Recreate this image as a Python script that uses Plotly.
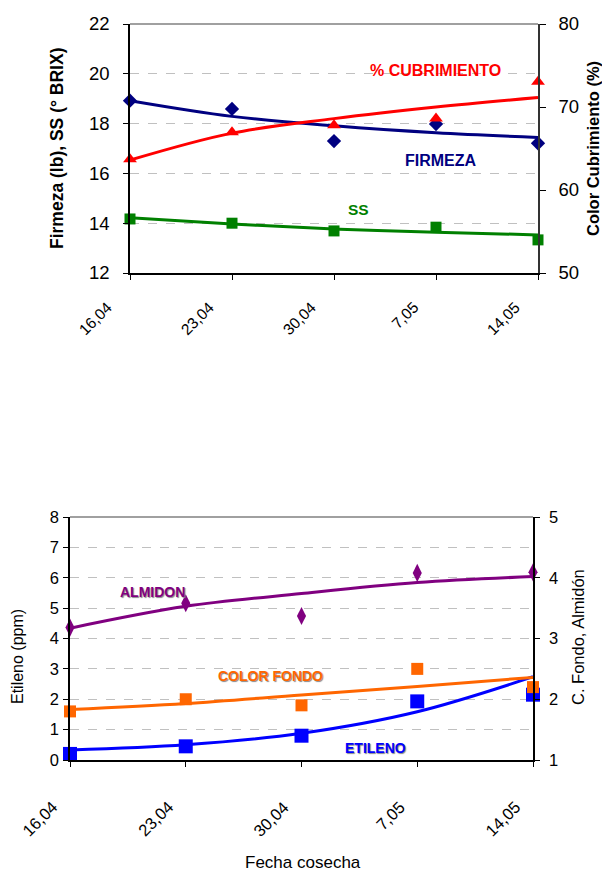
import plotly.graph_objects as go

# ---------------- data ----------------
fechas = ["16,04", "23,04", "30,04", "7,05", "14,05"]

# top chart
firmeza = [18.92, 18.59, 17.30, 17.98, 17.21]
firmeza_trend = [18.92, 18.29, 17.91, 17.63, 17.44]
ss = [14.17, 14.00, 13.69, 13.84, 13.33]
ss_trend = [14.22, 13.97, 13.77, 13.64, 13.53]
cubrimiento = [63.7, 66.95, 67.8, 68.6, 73.05]
cubrimiento_trend = [63.6, 66.85, 68.6, 70.0, 71.15]

# bottom chart
etileno = [0.20, 0.45, 0.80, 1.93, 2.15]
etileno_trend = [0.33, 0.50, 0.88, 1.59, 2.74]
color_fondo = [1.80, 2.00, 1.90, 2.50, 2.20]
color_fondo_trend = [1.83, 1.93, 2.07, 2.21, 2.36]
almidon = [3.18, 3.58, 3.37, 4.08, 4.09]
almidon_trend = [3.17, 3.53, 3.74, 3.92, 4.02]

x_idx = list(range(len(fechas)))

W, H = 602, 871
def px(x):
    return x / W
def py(y):
    return 1 - y / H

FONT = "Arial, Liberation Sans, Helvetica, sans-serif"
NAVY = "#000080"
RED = "#FF0000"
GREEN = "#008000"
PURPLE = "#800080"
ORANGE = "#FF6600"
BLUE = "#0000FF"

fig = go.Figure()

# ---- top chart traces ----
fig.add_trace(go.Scatter(x=x_idx, y=firmeza_trend, mode="lines", xaxis="x", yaxis="y",
                         line=dict(color=NAVY, width=3, shape="spline")))
fig.add_trace(go.Scatter(x=x_idx, y=ss_trend, mode="lines", xaxis="x", yaxis="y",
                         line=dict(color=GREEN, width=3, shape="spline")))
fig.add_trace(go.Scatter(x=x_idx, y=cubrimiento_trend, mode="lines", xaxis="x", yaxis="y2",
                         line=dict(color=RED, width=3, shape="spline")))
fig.add_trace(go.Scatter(x=x_idx, y=firmeza, mode="markers", xaxis="x", yaxis="y", cliponaxis=False,
                         marker=dict(symbol="diamond", size=11, color=NAVY)))
fig.add_trace(go.Scatter(x=x_idx, y=ss, mode="markers", xaxis="x", yaxis="y", cliponaxis=False,
                         marker=dict(symbol="square", size=11, color=GREEN)))
fig.add_trace(go.Scatter(x=x_idx, y=cubrimiento, mode="markers", xaxis="x", yaxis="y2", cliponaxis=False,
                         marker=dict(symbol="triangle-up", size=12, color=RED)))

# ---- bottom chart traces ----
fig.add_trace(go.Scatter(x=x_idx, y=almidon_trend, mode="lines", xaxis="x2", yaxis="y4",
                         line=dict(color=PURPLE, width=3, shape="spline")))
fig.add_trace(go.Scatter(x=x_idx, y=color_fondo_trend, mode="lines", xaxis="x2", yaxis="y4",
                         line=dict(color=ORANGE, width=3, shape="spline")))
fig.add_trace(go.Scatter(x=x_idx, y=etileno_trend, mode="lines", xaxis="x2", yaxis="y3",
                         line=dict(color=BLUE, width=3, shape="spline")))
fig.add_trace(go.Scatter(x=x_idx, y=almidon, mode="markers", xaxis="x2", yaxis="y4", cliponaxis=False,
                         marker=dict(symbol="diamond-tall", size=13, color=PURPLE)))
fig.add_trace(go.Scatter(x=x_idx, y=etileno, mode="markers", xaxis="x2", yaxis="y3", cliponaxis=False,
                         marker=dict(symbol="square", size=14, color=BLUE)))
fig.add_trace(go.Scatter(x=x_idx, y=color_fondo, mode="markers", xaxis="x2", yaxis="y4", cliponaxis=False,
                         marker=dict(symbol="square", size=12, color=ORANGE)))

tickfont_top = dict(family=FONT, size=18.5, color="black")
tickfont_bot = dict(family=FONT, size=16.5, color="black")

common_x = dict(range=[0, 4], tickmode="array", tickvals=x_idx, showticklabels=False,
                showline=True, linecolor="black", linewidth=1.5, ticks="outside", ticklen=5,
                tickcolor="black", showgrid=False, zeroline=False, automargin=False)

fig.update_layout(
    width=W, height=H, template="none", showlegend=False,
    margin=dict(l=0, r=0, t=0, b=0), paper_bgcolor="white", plot_bgcolor="rgba(0,0,0,0)",
    xaxis=dict(domain=[px(130), px(538)], anchor="y", **common_x),
    yaxis=dict(domain=[py(273), py(24)], anchor="x", range=[12, 22], dtick=2,
               showline=True, linecolor="black", linewidth=1.5, ticks="outside", ticklen=5,
               tickcolor="black", tickfont=tickfont_top, ticklabelstandoff=10,
               showgrid=True, gridcolor="#C0C0C0", griddash="dash", gridwidth=1,
               zeroline=False, automargin=False),
    yaxis2=dict(overlaying="y", side="right", anchor="x", range=[50, 80], dtick=10,
                showline=True, linecolor="#333333", linewidth=1.5, ticks="outside", ticklen=6,
                tickcolor="black", tickfont=tickfont_top, ticklabelstandoff=9,
                showgrid=False, zeroline=False, automargin=False),
    xaxis2=dict(domain=[px(70), px(533)], anchor="y3", **common_x),
    yaxis3=dict(domain=[py(760), py(517)], anchor="x2", range=[0, 8], dtick=1,
                showline=True, linecolor="black", linewidth=1.5, ticks="outside", ticklen=5,
                tickcolor="black", tickfont=tickfont_bot, ticklabelstandoff=1,
                showgrid=True, gridcolor="#C0C0C0", griddash="dash", gridwidth=1,
                zeroline=False, automargin=False),
    yaxis4=dict(overlaying="y3", side="right", anchor="x2", range=[1, 5], dtick=1,
                showline=True, linecolor="black", linewidth=1.5, ticks="outside", ticklen=5,
                tickcolor="black", tickfont=tickfont_bot, ticklabelstandoff=6,
                showgrid=False, zeroline=False, automargin=False),
)

# rotated category labels (placed on the category positions of each x axis)
for i, lab in zip(x_idx, fechas):
    fig.add_annotation(text=lab, x=i, y=0, xref="x", yref="y domain", xanchor="right",
                       yanchor="top", xshift=-12, yshift=-23, textangle=-45, showarrow=False,
                       font=dict(family=FONT, size=15.5, color="black"))
    fig.add_annotation(text=lab, x=i, y=0, xref="x2", yref="y3 domain", xanchor="right",
                       yanchor="top", xshift=-7, yshift=-35, textangle=-45, showarrow=False,
                       font=dict(family=FONT, size=16.5, color="black"))

# top borders
fig.add_shape(type="line", xref="x domain", yref="y domain", x0=0, x1=1, y0=1, y1=1,
              line=dict(color="#808080", width=1.5))
fig.add_shape(type="line", xref="x2 domain", yref="y3 domain", x0=0, x1=1, y0=1, y1=1,
              line=dict(color="#808080", width=1.5))

def ann(text, x, y, color="black", size=16, bold=False, angle=0, shadow=None):
    f = dict(family=FONT, size=size, color=color)
    if bold:
        f["weight"] = "bold"
    if shadow:
        f["shadow"] = shadow
    fig.add_annotation(text=text, x=px(x), y=py(y), xref="paper", yref="paper",
                       xanchor="center", yanchor="middle", showarrow=False,
                       textangle=angle, font=f)

# axis titles
ann("Firmeza (lb), SS (° BRIX)", 57, 149, size=17.5, bold=True, angle=-90)
ann("Color Cubrimiento (%)", 593, 149, size=16.5, bold=True, angle=-90)
ann("Etileno (ppm)", 17, 657, size=16, angle=-90)
ann("C. Fondo, Almidón", 578, 637, size=16.5, angle=-90)
ann("Fecha cosecha", 303, 862, size=17)

# series labels
ann("% CUBRIMIENTO", 435, 71, color=RED, size=16, bold=True)
ann("FIRMEZA", 441, 160, color=NAVY, size=16, bold=True)
ann("SS", 358, 209, color=GREEN, size=15.5, bold=True)
sh = "1px 1px 1px #888888"
ann("ALMIDON", 152, 592, color=PURPLE, size=14, bold=True, shadow=sh)
ann("COLOR FONDO", 270, 676, color=ORANGE, size=14, bold=True, shadow=sh)
ann("ETILENO", 375, 748, color=BLUE, size=14, bold=True, shadow=sh)

fig.write_html("out.html", config={"displayModeBar": False},
               post_script="document.body.style.margin='0px';document.body.style.overflow='hidden';")
